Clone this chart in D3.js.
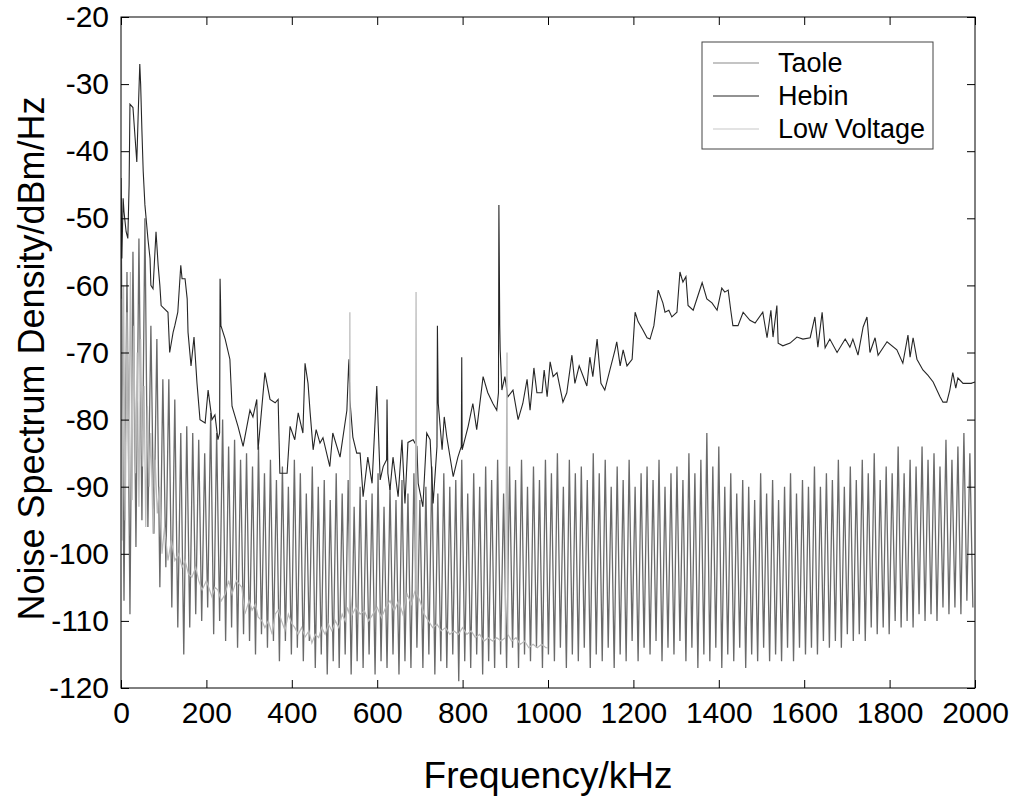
<!DOCTYPE html>
<html>
<head>
<meta charset="utf-8">
<script src="https://cdn.jsdelivr.net/npm/d3@7"></script>
<style>
  body { margin: 0; background: #fff; }
  #result { width: 1015px; height: 799px; }
  text { font-family: 'Liberation Sans', Arial, Helvetica, sans-serif; fill: #000; }
</style>
</head>
<body>
<div id="result"></div>
<script>
// chart frame (pixels of the 1015x799 picture)
const width = 1015;
const height = 799;
const margin = { top: 17, bottom: 111, left: 121, right: 40 };
const innerWidth = width - margin.left - margin.right;
const innerHeight = height - margin.top - margin.bottom;

// axis ticks
const xTicks = [0, 200, 400, 600, 800, 1000, 1200, 1400, 1600, 1800, 2000];
const yTicks = [-120, -110, -100, -90, -80, -70, -60, -50, -40, -30, -20];

// Taole: alternating peak / trough readings, one pair every 14 kHz
const taoleStep = 14;
const taoleTops = [
  -47, -58, -55, -53, -50, -66, -68, -74, -74, -77,
  -82, -81, -82, -83, -85, -79, -82, -80, -84, -83,
  -86, -85, -87, -84, -88, -86, -89, -87, -90, -86,
  -88, -91, -87, -90, -89, -92, -88, -91, -89, -93,
  -90, -92, -91, -88, -93, -90, -92, -89, -91, -88,
  -92, -90, -87, -91, -88, -90, -89, -86, -91, -88,
  -90, -87, -89, -86, -91, -87, -89, -86, -90, -87,
  -89, -86, -88, -85, -90, -86, -88, -87, -89, -85,
  -88, -86, -90, -87, -89, -86, -90, -88, -87, -89,
  -86, -90, -88, -87, -89, -85, -88, -86, -82, -87,
  -84, -90, -88, -91, -89, -90, -92, -88, -91, -89,
  -92, -90, -88, -91, -89, -90, -87, -90, -88, -89,
  -86, -90, -87, -89, -86, -88, -85, -89, -87, -88,
  -84, -88, -86, -87, -84, -86, -85, -87, -83, -86,
  -84, -82, -85
];
const taoleBottoms = [
  -107, -109, -99, -95, -96, -97, -105, -102, -108, -111,
  -115, -111, -109, -110, -108, -112, -110, -113, -111, -114,
  -112, -113, -115, -112, -114, -113, -116, -113, -115, -114,
  -116, -113, -117, -115, -118, -116, -117, -115, -118, -116,
  -117, -115, -118, -116, -117, -115, -118, -116, -117, -114,
  -117, -115, -118, -116, -117, -115, -119, -116, -117, -115,
  -118, -116, -117, -115, -117, -114, -117, -115, -116, -114,
  -117, -115, -116, -114, -117, -115, -116, -114, -117, -115,
  -116, -114, -117, -115, -116, -113, -116, -114, -115, -113,
  -116, -114, -115, -113, -116, -114, -117, -115, -116, -114,
  -117, -115, -116, -114, -117, -115, -116, -114, -116, -115,
  -116, -114, -116, -114, -115, -114, -115, -113, -114, -113,
  -114, -112, -113, -112, -113, -111, -112, -111, -112, -110,
  -111, -110, -111, -109, -110, -109, -110, -108, -109, -108,
  -109, -107, -108
];

// Hebin: [frequency kHz, dBm/Hz]
const hebin = [
  [0, -44], [2, -56], [5, -47], [7, -49], [12, -52], [16, -53], [19, -45], [21, -33],
  [28, -33.5], [33, -38], [37, -41.6], [40, -35], [44, -27], [46, -30], [49, -37], [52, -43],
  [56, -48], [63, -53], [68, -56], [70, -60], [75, -60.5], [82, -52], [87, -57], [91, -60],
  [94, -63], [110, -64], [114, -70], [122, -67], [126, -66], [133, -64], [140, -57], [143, -59],
  [150, -59], [155, -62], [157, -67], [164, -72], [171, -67.7], [178, -74.6], [185, -80], [197, -80.5],
  [204, -75.6], [213, -80], [220, -79.3], [227, -83], [231, -82], [232, -59], [233, -62], [234, -66],
  [244, -68], [255, -71], [260, -78], [274, -81], [286, -84], [302, -78.6], [309, -79.6], [318, -77],
  [321, -84.5], [337, -73], [349, -77], [361, -77.5], [368, -77], [372, -88], [389, -88], [396, -81],
  [407, -83], [415, -79], [426, -82], [431, -71.6], [438, -74.6], [443, -79], [450, -84.5], [457, -81.5],
  [466, -83.5], [473, -82.7], [489, -87], [496, -82], [513, -85.6], [529, -78.6], [533, -72], [534, -71],
  [536, -77], [543, -82.6], [552, -85], [560, -85], [567, -91.5], [578, -85.6], [588, -89.5], [599, -75],
  [607, -89], [614, -87], [622, -86], [623, -77], [625, -88], [630, -90.5], [637, -85.6], [649, -91.5],
  [658, -83], [665, -92.5], [672, -83.4], [684, -83], [693, -84], [696, -89.5], [707, -93], [716, -82],
  [724, -83], [731, -92.5], [740, -84], [741, -66], [743, -77.6], [752, -84.5], [757, -79.6], [763, -82.6],
  [778, -88.5], [789, -85.6], [797, -84], [798, -70.7], [799, -84.5], [813, -81], [824, -77.6], [833, -81.5],
  [848, -73.6], [859, -76], [871, -77.6], [880, -78.6], [884, -76], [885, -48], [887, -66], [888, -69.6],
  [892, -75.6], [899, -73.6], [906, -76.6], [918, -75.6], [930, -80], [941, -77.6], [951, -74], [958, -78.6],
  [967, -72.3], [974, -76], [986, -76], [991, -72.6], [998, -76.6], [1005, -71.4], [1012, -73.6], [1021, -73],
  [1035, -77.4], [1044, -76], [1056, -70.4], [1063, -74.6], [1073, -72], [1091, -75], [1098, -70.7], [1105, -73.6],
  [1115, -68], [1124, -74.6], [1133, -75.6], [1145, -72.6], [1157, -69.6], [1161, -68.4], [1169, -72], [1176, -69.6],
  [1185, -72], [1197, -71], [1204, -64], [1211, -65.4], [1222, -66.6], [1232, -67.8], [1239, -68], [1248, -66],
  [1258, -60.7], [1269, -62.6], [1274, -64], [1283, -63.7], [1290, -64.7], [1302, -64], [1309, -58], [1316, -59.5],
  [1323, -58.7], [1328, -63], [1340, -63.7], [1361, -59.6], [1372, -62], [1384, -62.6], [1396, -63.7], [1407, -60.4],
  [1414, -61], [1422, -60.7], [1428, -63.7], [1433, -66], [1445, -66], [1457, -64], [1473, -65.2], [1485, -65.6],
  [1503, -64], [1513, -67.8], [1522, -63.7], [1527, -67.7], [1536, -63], [1539, -68.6], [1550, -69], [1567, -68.6],
  [1583, -67.7], [1597, -68], [1614, -67.8], [1625, -64.7], [1632, -69.2], [1642, -64], [1649, -69.3], [1660, -68],
  [1677, -70], [1696, -68], [1707, -69.2], [1714, -68], [1726, -70.4], [1738, -66.2], [1747, -64.7], [1754, -70],
  [1766, -67.8], [1773, -70.4], [1794, -68.4], [1817, -69.6], [1831, -71.6], [1843, -67.4], [1848, -70.7], [1855, -67.8],
  [1864, -71], [1878, -72.6], [1890, -73.4], [1902, -74.4], [1918, -76.6], [1925, -77.4], [1934, -77.4], [1941, -75.6],
  [1948, -73], [1955, -75.3], [1960, -73.8], [1972, -74.6], [1991, -74.6], [2000, -74.4]
];

// Low Voltage: [frequency kHz, dBm/Hz], measured up to 1000 kHz only
const lowVoltage = [
  [0, -62], [3, -98], [6, -60], [10, -95], [14, -64], [18, -90], [22, -58], [26, -92],
  [30, -66], [34, -88], [38, -70], [42, -93], [46, -68], [50, -87], [54, -75], [58, -96],
  [62, -78], [66, -90], [70, -82], [75, -97], [80, -86], [85, -94], [90, -90], [96, -100],
  [102, -96], [110, -101], [118, -98], [126, -101], [135, -100], [143, -102], [150, -101], [158, -103],
  [166, -103.5], [175, -102], [182, -104], [190, -105.4], [200, -104], [213, -106.4], [220, -105], [227, -105.4],
  [235, -107], [244, -106], [252, -104], [260, -106], [270, -104], [283, -105], [290, -109], [300, -107],
  [307, -108.4], [315, -107.5], [321, -109.4], [330, -110], [337, -111], [345, -110], [354, -112], [361, -109],
  [368, -108.4], [376, -110], [384, -111.4], [392, -109], [400, -110.4], [407, -111], [415, -112], [423, -111],
  [431, -112.4], [440, -111.5], [447, -113.3], [455, -112], [463, -112.5], [470, -111], [478, -112], [486, -110.5],
  [494, -111.5], [502, -110], [510, -111], [518, -109], [525, -110], [530, -108], [535, -109], [536, -64],
  [537, -106], [542, -109], [550, -108], [560, -109], [570, -108.5], [580, -110], [590, -109], [600, -108],
  [610, -109.5], [620, -108], [630, -107], [640, -108.5], [650, -107], [660, -109], [670, -106], [680, -107.5],
  [689, -105.4], [691, -61], [693, -106], [700, -107], [710, -109], [720, -110], [730, -111], [740, -110.5],
  [750, -111.5], [760, -111], [770, -112], [780, -111.5], [790, -112], [800, -111], [810, -112], [820, -111.5],
  [830, -112.5], [840, -112], [850, -113], [860, -112.5], [870, -113], [880, -112.5], [890, -113], [900, -112.5],
  [904, -70], [906, -112], [915, -113], [925, -112.5], [935, -113.5], [945, -113], [955, -114], [965, -113.5],
  [975, -114], [985, -113.5], [995, -114], [1000, -114]
];

const seriesNames = ['Taole', 'Hebin', 'Low Voltage'];
const seriesColors = ['#6a6a6a', '#262626', '#b9b9b9'];
const legendColors = ['#8a8a8a', '#262626', '#c8c8c8'];

// build the Taole trace from its peak / trough pairs
const taole = [];
taoleTops.forEach((v, i) => {
  taole.push([i * taoleStep, v]);
  if (i < taoleBottoms.length) taole.push([i * taoleStep + taoleStep / 2, taoleBottoms[i]]);
});

const svg = d3.select('#result')
  .append('svg')
  .attr('width', width)
  .attr('height', height);

const g = svg.append('g')
  .attr('transform', `translate(${margin.left}, ${margin.top})`);

const xScale = d3.scaleLinear()
  .domain([0, 2000])
  .range([0, innerWidth]);

const yScale = d3.scaleLinear()
  .domain([-120, -20])
  .range([innerHeight, 0]);

g.append('clipPath')
  .attr('id', 'plot-clip')
  .append('rect')
    .attr('width', innerWidth)
    .attr('height', innerHeight);

const plotG = g.append('g').attr('clip-path', 'url(#plot-clip)');

const plainLine = d3.line()
  .x(d => xScale(d[0]))
  .y(d => yScale(d[1]));

plotG.append('path')
  .datum(taole)
  .attr('fill', 'none')
  .attr('stroke', seriesColors[0])
  .attr('stroke-width', 1.3)
  .attr('stroke-linejoin', 'bevel')
  .attr('d', plainLine);

plotG.append('path')
  .datum(hebin)
  .attr('fill', 'none')
  .attr('stroke', seriesColors[1])
  .attr('stroke-width', 1.1)
  .attr('d', plainLine);

plotG.append('path')
  .datum(lowVoltage)
  .attr('fill', 'none')
  .attr('stroke', seriesColors[2])
  .attr('stroke-width', 1.2)
  .attr('d', plainLine);

// axes: ticks point inwards on all four sides, like the original
const tickLen = 8;
const fmt = d => String(d);
const xAxisBottom = d3.axisBottom(xScale).tickValues(xTicks).tickSizeInner(-tickLen).tickSizeOuter(0).tickPadding(14).tickFormat(fmt);
const xAxisTop = d3.axisTop(xScale).tickValues(xTicks).tickSizeInner(-tickLen).tickSizeOuter(0);
const yAxisLeft = d3.axisLeft(yScale).tickValues(yTicks).tickSizeInner(-tickLen).tickSizeOuter(0).tickPadding(12).tickFormat(fmt);
const yAxisRight = d3.axisRight(yScale).tickValues(yTicks).tickSizeInner(-tickLen).tickSizeOuter(0);

const axisStyle = sel => {
  sel.select('.domain').remove();
  sel.selectAll('line').attr('stroke', '#000');
  sel.selectAll('text')
    .style('font-family', "'Liberation Sans', Arial, sans-serif")
    .style('font-size', '30px')
    .attr('fill', '#000');
};

g.append('g').attr('transform', `translate(0, ${innerHeight})`).call(xAxisBottom).call(axisStyle);
g.append('g').call(xAxisTop).call(axisStyle).selectAll('text').remove();
g.append('g').call(yAxisLeft).call(axisStyle);
g.append('g').attr('transform', `translate(${innerWidth}, 0)`).call(yAxisRight).call(axisStyle).selectAll('text').remove();

// frame
g.append('rect')
  .attr('width', innerWidth)
  .attr('height', innerHeight)
  .attr('fill', 'none')
  .attr('stroke', '#000')
  .attr('stroke-width', 1);

// axis titles
svg.append('text')
  .attr('x', margin.left + innerWidth / 2)
  .attr('y', 788)
  .attr('text-anchor', 'middle')
  .style('font-size', '37px')
  .text('Frequency/kHz');

svg.append('text')
  .attr('transform', `translate(44, ${margin.top + innerHeight / 2 + 6}) rotate(-90)`)
  .attr('text-anchor', 'middle')
  .style('font-size', '36px')
  .text('Noise Spectrum Density/dBm/Hz');

// legend
const legend = svg.append('g').attr('transform', 'translate(702, 42)');

legend.append('rect')
  .attr('width', 231)
  .attr('height', 107)
  .attr('fill', '#fff')
  .attr('stroke', '#444')
  .attr('stroke-width', 1);

seriesNames.forEach((name, i) => {
  const row = legend.append('g').attr('transform', `translate(0, ${21 + i * 33})`);
  row.append('line')
    .attr('x1', 11)
    .attr('x2', 57)
    .attr('stroke', legendColors[i])
    .attr('stroke-width', 1.2);
  row.append('text')
    .attr('x', 76)
    .attr('dy', '0.35em')
    .style('font-size', '27px')
    .text(name);
});
</script>
</body>
</html>
